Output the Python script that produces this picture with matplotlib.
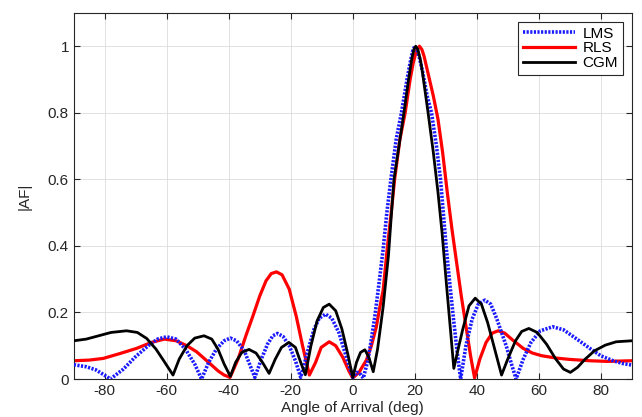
import matplotlib
matplotlib.use('Agg')
import matplotlib.pyplot as plt

plt.rcParams['font.family'] = ['Liberation Sans', 'DejaVu Sans']

# values (angle in deg, |AF|)
lms_x = [-90, -86, -83, -80.5, -78.2, -74, -70, -66, -63, -60.1, -57, -54, -51, -48.8,
         -46.5, -44, -41.5, -39.5, -37.5, -35, -33.3, -31.6,
         -29.5, -27.5, -25.8, -24.3, -22.5, -20.5, -18.5, -16.8,
         -14.5, -12.5, -10.8, -8.8, -6.8, -4.5, -2.2, 0,
         1.2, 2.2, 3.4,
         4.9, 6, 7.1, 8.5, 9.8, 11, 12.3, 14, 15.7, 17.5, 18.5, 19.3, 20, 20.7, 21.5, 22.5, 24, 25.4,
         27, 28.3, 29.2, 30.1, 31.3, 32.5, 33.7, 34.8,
         36.5, 38.5, 40.5, 42.6, 44.5, 46.5, 49.6, 51.2, 52.7,
         55, 57.5, 60.5, 64.5, 68, 72, 76.5, 80, 84, 87, 90]
lms_y = [0.043, 0.037, 0.028, 0.014, 0.0, 0.03, 0.068, 0.1, 0.12, 0.127, 0.12, 0.09, 0.045, 0.0,
         0.05, 0.09, 0.115, 0.123, 0.115, 0.085, 0.045, 0.005,
         0.06, 0.105, 0.13, 0.137, 0.128, 0.1, 0.055, 0.005,
         0.085, 0.15, 0.183, 0.195, 0.183, 0.14, 0.07, 0.005,
         0.02, 0.018, 0.003,
         0.057, 0.12, 0.187, 0.29, 0.39, 0.5, 0.6, 0.72, 0.8, 0.9, 0.95, 0.985, 1.0, 0.99, 0.965, 0.925, 0.85, 0.8,
         0.7, 0.6, 0.5, 0.4, 0.287, 0.18, 0.08, 0.0,
         0.1, 0.18, 0.225, 0.237, 0.225, 0.18, 0.097, 0.045, 0.0,
         0.06, 0.11, 0.145, 0.157, 0.148, 0.122, 0.092, 0.07, 0.055, 0.047, 0.042]

rls_x = [-90, -85, -80.5, -75, -69.8, -65, -60.8, -57, -53.5, -50.4, -46.5, -43.4, -41.5, -39.6,
         -37, -34.5, -32.2, -30, -28, -26.3, -24.6, -22.8, -20.5, -18.2, -16.2, -14,
         -12, -10.2, -7.6, -5.5, -3.2, -1.3, 0,
         2, 4.4, 6, 7.6, 8.7, 9.8, 11.2, 12.4, 13.5, 15.2, 16.9, 18.5, 19.5, 20.5, 21.5, 22.3, 23,
         24.5, 26, 27.5, 29, 30.5, 32, 33.5, 35, 36.5, 38, 39.3,
         41, 43, 45, 46.9, 49, 51.5, 55, 58, 61, 65.7, 70, 76.5, 82, 86, 90]
rls_y = [0.055, 0.057, 0.062, 0.077, 0.092, 0.11, 0.12, 0.115, 0.1, 0.082, 0.05, 0.024, 0.012, 0.005,
         0.06, 0.13, 0.19, 0.25, 0.295, 0.317, 0.322, 0.313, 0.27, 0.187, 0.1, 0.012,
         0.05, 0.095, 0.112, 0.1, 0.065, 0.025, 0.003,
         0.02, 0.057, 0.1, 0.157, 0.215, 0.267, 0.4, 0.5, 0.6, 0.72, 0.8, 0.9, 0.95, 0.985, 1.0, 0.99, 0.97,
         0.91, 0.85, 0.78, 0.68, 0.56, 0.45, 0.35, 0.25, 0.16, 0.07, 0.003,
         0.06, 0.11, 0.138, 0.145, 0.138, 0.118, 0.092, 0.078, 0.07, 0.063, 0.059, 0.055, 0.053, 0.054, 0.055]

cgm_x = [-90, -86, -82, -78, -73, -69.5, -66.5, -63.5, -61, -58,
         -56, -53.5, -51, -48, -45.5, -43.5, -41.5, -39.5,
         -37.8, -35.8, -33.5, -31.2, -29, -27,
         -25, -23, -20.6, -18.5, -16.8, -15.3,
         -13.5, -11.5, -9.5, -7.6, -5.5, -3.5, -1.6, 0,
         1.2, 2.5, 3.9, 5.2, 6.6,
         8, 9.8, 11.5, 12.5, 13.3, 14.9, 16.5, 18, 19, 19.7, 20.3, 21, 21.8, 22.5, 24.3, 26, 27.5, 28.8,
         30.2, 31.5, 32.6,
         34, 35.5, 37.5, 39.5, 41.5, 43.5, 45.5, 48,
         50, 52.5, 54.5, 56.8, 59.5, 62.5, 65.5, 68, 70.2,
         72.5, 75, 78, 81.5, 85, 90]
cgm_y = [0.115, 0.12, 0.13, 0.14, 0.145, 0.14, 0.122, 0.09, 0.055, 0.012,
         0.06, 0.1, 0.123, 0.13, 0.12, 0.09, 0.045, 0.008,
         0.05, 0.08, 0.089, 0.078, 0.048, 0.017,
         0.06, 0.095, 0.11, 0.095, 0.05, 0.013,
         0.1, 0.175, 0.215, 0.225, 0.205, 0.15, 0.075, 0.005,
         0.05, 0.08, 0.088, 0.065, 0.022,
         0.09, 0.217, 0.37, 0.5, 0.6, 0.7, 0.8, 0.9, 0.96, 0.99, 1.0, 0.99, 0.96, 0.92, 0.8, 0.68, 0.56, 0.44,
         0.287, 0.15, 0.032,
         0.09, 0.15, 0.22, 0.243, 0.225, 0.17, 0.1, 0.012,
         0.06, 0.115, 0.143, 0.152, 0.14, 0.105, 0.06, 0.03, 0.02,
         0.035, 0.06, 0.085, 0.102, 0.112, 0.115]

x_ticks = [-80, -60, -40, -20, 0, 20, 40, 60, 80]
y_ticks = [0, 0.2, 0.4, 0.6, 0.8, 1]
y_tick_labels = ['0', '0.2', '0.4', '0.6', '0.8', '1']

fig = plt.figure(figsize=(6.42, 4.17), dpi=100)
ax = fig.add_axes([0.115, 0.091, 0.869, 0.878])

ax.plot(lms_x, lms_y, color='#1a1aff', lw=2.6, linestyle=(0, (0.6, 0.4)), label='LMS', zorder=3)
ax.plot(rls_x, rls_y, color='#ff0000', lw=2.3, label='RLS', zorder=2)
ax.plot(cgm_x, cgm_y, color='#000000', lw=2.0, label='CGM', zorder=4)

ax.set_xlim(-90, 90)
ax.set_ylim(0, 1.1)
ax.set_xticks(x_ticks)
ax.set_xticklabels([str(t) for t in x_ticks])
ax.set_yticks(y_ticks)
ax.set_yticklabels(y_tick_labels)
ax.tick_params(direction='in', top=True, right=True, labelsize=11, length=4, width=0.8,
               colors='#262626')
ax.grid(True, color='#dcdcdc', lw=0.6)
ax.set_axisbelow(True)
for s in ax.spines.values():
    s.set_color('#262626')
    s.set_linewidth(0.8)

ax.set_xlabel('Angle of Arrival (deg)', fontsize=11, labelpad=2, color='#262626')
ax.set_ylabel('|AF|', fontsize=11, labelpad=12, color='#262626')

leg = ax.legend(loc='upper right', fontsize=11, fancybox=False, framealpha=1,
                edgecolor='#262626', handlelength=3.4, borderaxespad=0.6,
                labelspacing=0.05, handletextpad=0.5, borderpad=0.3)
leg.get_frame().set_linewidth(0.8)

fig.savefig('out.png', dpi=100)
